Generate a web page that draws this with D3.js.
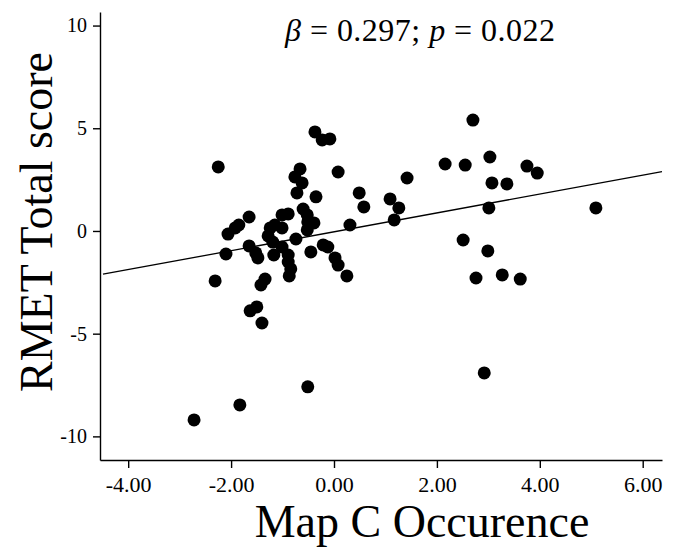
<!DOCTYPE html>
<html>
<head>
<meta charset="utf-8">
<script src="https://cdn.jsdelivr.net/npm/d3@7"></script>
<style>
  body { margin: 0; background: #fff; }
  svg { display: block; }
  text { font-family: "Liberation Serif", "Times New Roman", serif; fill: #000; }
</style>
</head>
<body>
<svg width="681" height="547"></svg>
<script>
// Map C occurence (x) vs RMET total score (y)
var mapC = [-2.25, -2.72, -1.83, -0.51, -2.31, -2.06, -2.10, -1.92, -1.85, -1.65,
    -1.65, -1.52, -1.48, -1.34, -1.42, -1.63, -1.50, -1.40, -1.17, -1.24,
    -1.15, -1.28, -1.19, -1.01, -0.89, -1.01, -1.01, -0.89, -0.89, -0.84,
    -0.87, -0.74, -0.60, -0.52, -0.51, -0.39, -0.52, -0.45, -0.21, -0.12,
    0.02, 0.08, 0.25, 0.31, -0.66, -0.76, -0.62, -0.72, -0.35, -0.37,
    -0.23, -0.08, 0.08, 0.49, 0.58, 1.09, 1.26, 1.17, 1.42, 2.16,
    2.55, 3.03, 2.70, 3.75, 3.95, 3.07, 3.36, 3.01, 5.09, 2.51,
    2.99, 2.76, 3.27, 3.62, 2.92];
var rmet = [3.12, -9.20, -8.47, -7.59, -2.43, -0.15, -1.12, 0.15, 0.29, 0.68,
    -0.73, -1.07, -1.31, -2.34, -2.63, -3.89, -3.70, -4.48, -1.17, 0.15,
    0.29, -0.24, -0.54, 0.78, 0.83, 0.15, -0.78, -1.17, -1.51, -1.85,
    -2.19, -0.39, 1.07, 0.78, 0.44, 0.39, 0.05, -1.02, -0.68, -0.78,
    -1.31, -1.66, -2.19, 0.29, 3.02, 2.63, 2.34, 1.85, 1.66, 4.82,
    4.43, 4.48, 2.87, 1.85, 1.17, 1.56, 1.12, 0.54, 2.58, 3.26,
    3.21, 3.60, 5.40, 3.16, 2.82, 2.34, 2.29, 1.12, 1.12, -0.44,
    -0.97, -2.29, -2.14, -2.34, -6.91];

var xTicks = [-4, -2, 0, 2, 4, 6];
var yTicks = [-10, -5, 0, 5, 10];

// fitted line
var fitIntercept = -0.04, fitSlope = 0.46;
var fitFrom = -4.49;

var serif = '"Liberation Serif", "Times New Roman", serif';
var svg = d3.select("svg");

var x = d3.scaleLinear().domain([-4.548, 6.375]).range([100, 662]);
var y = d3.scaleLinear().domain([-11.15, 10.66]).range([460, 12]);

var xAxis = svg.append("g")
    .attr("transform", "translate(0,460)")
    .call(d3.axisBottom(x).tickValues(xTicks)
        .tickFormat(function(d) { return d3.format(".2f")(d).replace("−", "-"); })
        .tickSizeInner(8).tickSizeOuter(0).tickPadding(8));

var yAxis = svg.append("g")
    .attr("transform", "translate(100,0)")
    .call(d3.axisLeft(y).tickValues(yTicks)
        .tickFormat(function(d) { return String(d); })
        .tickSizeInner(7).tickSizeOuter(0).tickPadding(6));

svg.selectAll(".domain, .tick line").attr("stroke", "#000").attr("stroke-width", 1.4);
xAxis.attr("font-family", serif).selectAll("text").style("font-size", "22px");
yAxis.attr("font-family", serif).selectAll("text").style("font-size", "20px");

// regression line
var x0 = fitFrom, x1 = x.domain()[1];
svg.append("line")
    .attr("x1", x(x0)).attr("y1", y(fitIntercept + fitSlope * x0))
    .attr("x2", x(x1)).attr("y2", y(fitIntercept + fitSlope * x1))
    .attr("stroke", "#000")
    .attr("stroke-width", 1.3);

svg.append("g")
    .selectAll("circle")
    .data(d3.range(mapC.length))
    .enter().append("circle")
    .attr("cx", function(i) { return x(mapC[i]); })
    .attr("cy", function(i) { return y(rmet[i]); })
    .attr("r", 6.5)
    .attr("fill", "#000");

// stats annotation
var note = svg.append("text")
    .attr("x", 285).attr("y", 41)
    .style("font-size", "32px")
    .attr("textLength", 270)
    .attr("lengthAdjust", "spacing");
note.append("tspan").style("font-style", "italic").text("β");
note.append("tspan").text(" = 0.297; ");
note.append("tspan").style("font-style", "italic").text("p");
note.append("tspan").text(" = 0.022");

svg.append("text")
    .attr("x", 422).attr("y", 537)
    .attr("text-anchor", "middle")
    .style("font-size", "46px")
    .text("Map C Occurence");

svg.append("text")
    .attr("transform", "translate(52,222) rotate(-90)")
    .attr("text-anchor", "middle")
    .style("font-size", "46px")
    .text("RMET Total score");
</script>
</body>
</html>
